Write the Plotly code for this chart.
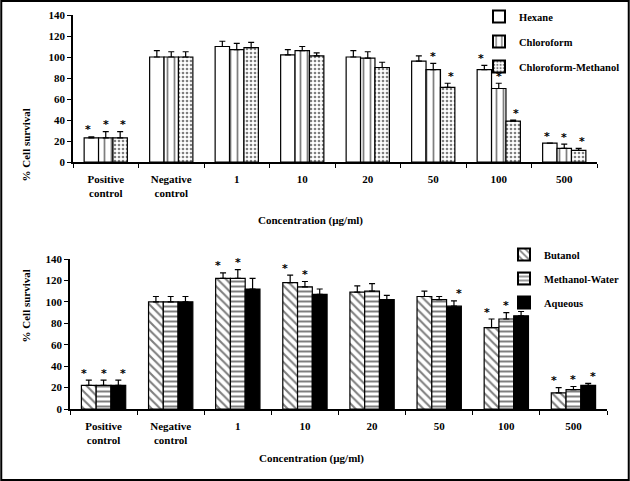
import plotly.graph_objects as go

categories = ["Positive<br>control", "Negative<br>control", "1", "10", "20", "50", "100", "500"]

# Top panel
hexane = [23, 100, 110, 102, 100, 96, 88, 18]
hexane_err = [1, 6, 5, 5, 6, 5, 4, 0]
chloroform = [23, 100, 107, 106, 99, 88, 70, 13]
chloroform_err = [6, 5, 6, 4, 6, 6, 5, 4]
chl_meth = [23, 100, 109, 101, 90, 71, 39, 11]
chl_meth_err = [6, 5, 5, 3, 5, 4, 1, 2]
hexane_sig = [1, 0, 0, 0, 0, 0, 1, 1]
chloroform_sig = [1, 0, 0, 0, 0, 1, 1, 1]
chl_meth_sig = [1, 0, 0, 0, 0, 1, 1, 1]

# Bottom panel
butanol = [22, 100, 122, 118, 109, 105, 76, 15]
butanol_err = [5, 5, 5, 7, 6, 5, 8, 5]
meth_water = [22, 100, 122, 114, 110, 102, 84, 18]
meth_water_err = [5, 5, 8, 5, 7, 3, 6, 3]
aqueous = [22, 100, 112, 107, 102, 96, 87, 22]
aqueous_err = [5, 5, 10, 5, 4, 5, 4, 2]
butanol_sig = [1, 0, 1, 1, 0, 0, 1, 1]
meth_water_sig = [1, 0, 1, 1, 0, 0, 1, 1]
aqueous_sig = [1, 0, 0, 0, 0, 1, 1, 1]

W, H = 630, 481
FONT = "Liberation Serif"

fig = go.Figure()

def add_bar(name, vals, errs, xa, ya, legend, fillc, pattern_shape, pattern_fg, pattern_size=6, solidity=0.3):
    fig.add_trace(go.Bar(
        name=name, x=categories, y=vals, xaxis=xa, yaxis=ya, legend=legend, legendgroup=name,
        marker=dict(color=fillc, line=dict(color="black", width=1.2),
                    pattern=dict(shape=pattern_shape, fgcolor=pattern_fg, bgcolor=fillc,
                                 size=pattern_size, solidity=solidity)),
        error_y=dict(type="data", array=errs, arrayminus=[0]*len(errs), symmetric=False,
                     color="black", thickness=1.2, width=3),
    ))

add_bar("Hexane", hexane, hexane_err, "x", "y", "legend", "white", "", "black")
add_bar("Chloroform", chloroform, chloroform_err, "x", "y", "legend", "white", "|", "black", 7, 0.25)
add_bar("Chloroform-Methanol", chl_meth, chl_meth_err, "x", "y", "legend", "white", ".", "black", 4, 0.35)
add_bar("Butanol", butanol, butanol_err, "x2", "y2", "legend2", "white", "\\", "black", 6, 0.35)
add_bar("Methanol-Water", meth_water, meth_water_err, "x2", "y2", "legend2", "white", "-", "black", 5, 0.4)
add_bar("Aqueous", aqueous, aqueous_err, "x2", "y2", "legend2", "black", "", "black")

annotations = []
def add_stars(vals, errs, sig, offset, xa, ya):
    for i, (v, e, s) in enumerate(zip(vals, errs, sig)):
        if s:
            annotations.append(dict(x=i + offset, y=v + e, xref=xa, yref=ya, text="<b>*</b>",
                                    showarrow=False, yshift=7,
                                    font=dict(family="DejaVu Sans", size=11, color="#000000")))

off = 0.27
add_stars(hexane, hexane_err, hexane_sig, -off, "x", "y")
add_stars(chloroform, chloroform_err, chloroform_sig, 0, "x", "y")
add_stars(chl_meth, chl_meth_err, chl_meth_sig, off, "x", "y")
add_stars(butanol, butanol_err, butanol_sig, -0.29, "x2", "y2")
add_stars(meth_water, meth_water_err, meth_water_sig, 0, "x2", "y2")
add_stars(aqueous, aqueous_err, aqueous_sig, 0.29, "x2", "y2")

tf = dict(family=FONT, size=11, color="black", weight="bold")
annotations += [
    dict(x=17 / W, y=1 - 107 / H, xref="paper", yref="paper", text="% Cell survival",
         textangle=-90, showarrow=False, font=tf),
    dict(x=310 / W, y=1 - 220 / H, xref="paper", yref="paper", text="Concentration (µg/ml)",
         showarrow=False, font=tf),
    dict(x=17 / W, y=1 - 345 / H, xref="paper", yref="paper", text="% Cell survival",
         textangle=-90, showarrow=False, font=tf),
    dict(x=311 / W, y=1 - 467 / H, xref="paper", yref="paper", text="Concentration (µg/ml)",
         showarrow=False, font=tf),
]

def xax(d0, d1, anchor):
    return dict(domain=[d0 / W, d1 / W], anchor=anchor, showline=True, linecolor="black",
                linewidth=1.5, ticks="outside", tickson="boundaries", ticklen=4,
                ticklabelstandoff=6,
                tickcolor="black", tickfont=tf, showgrid=False, zeroline=False, fixedrange=True)

def yax(top, bottom, anchor):
    return dict(domain=[1 - bottom / H, 1 - top / H], anchor=anchor, range=[0, 140],
                tickvals=[0, 20, 40, 60, 80, 100, 120, 140], showline=True, linecolor="black",
                linewidth=1.5, ticks="outside", ticklen=4, tickcolor="black", tickfont=tf,
                showgrid=False, zeroline=False, fixedrange=True)

leg_font = dict(family=FONT, size=10.5, color="black", weight="bold")
fig.update_layout(
    width=W, height=H, margin=dict(l=0, r=0, t=0, b=0, autoexpand=False),
    paper_bgcolor="white", plot_bgcolor="white",
    barmode="group", bargap=0.34, bargroupgap=0.0,
    xaxis=xax(73, 597, "y"), yaxis=yax(15, 162, "x"),
    xaxis2=xax(70, 607, "y2"), yaxis2=yax(259, 409, "x2"),
    showlegend=True,
    legend=dict(x=479 / W, y=1 - 2 / H, xanchor="left", yanchor="top", font=leg_font,
                bgcolor="rgba(0,0,0,0)", tracegroupgap=6, itemwidth=30, itemsizing="constant"),
    legend2=dict(x=504 / W, y=1 - 240 / H, xanchor="left", yanchor="top", font=leg_font,
                 bgcolor="rgba(0,0,0,0)", tracegroupgap=5, itemwidth=30, itemsizing="constant"),
    annotations=annotations,
    shapes=[dict(type="rect", xref="paper", yref="paper", x0=0.002, y0=0.002, x1=0.998, y1=0.998,
                 line=dict(color="black", width=2))],
)

fig.write_html("out.html", config={"displayModeBar": False},
               post_script="document.body.style.margin='0';document.body.style.padding='0';")
